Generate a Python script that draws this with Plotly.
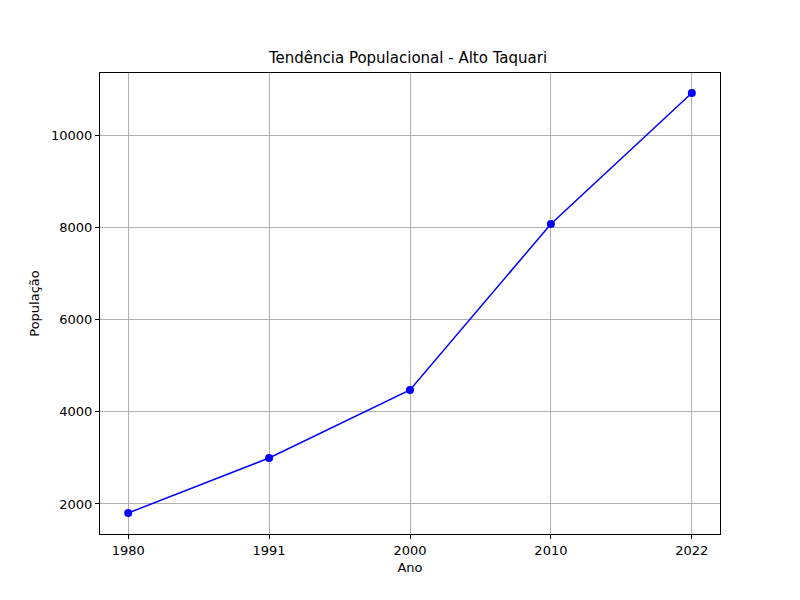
import plotly.graph_objects as go

anos = ["1980", "1991", "2000", "2010", "2022"]
populacao = [1805, 2998, 4473, 8074, 10915]
y_ticks = [2000, 4000, 6000, 8000, 10000]

fig = go.Figure()
fig.add_trace(go.Scatter(
    x=anos, y=populacao, mode="lines+markers",
    line=dict(color="blue", width=1.5),
    marker=dict(color="blue", size=8),
))

axis_common = dict(
    showline=True, linecolor="black", linewidth=1, mirror=True,
    showgrid=True, gridcolor="#b0b0b0", gridwidth=1,
    ticks="outside", ticklen=4, tickcolor="black",
    zeroline=False, tickfont=dict(size=13, color="black"),
)

fig.update_layout(
    width=800, height=600,
    paper_bgcolor="white", plot_bgcolor="white",
    margin=dict(l=92, r=88, t=65, b=74),
    font=dict(family="DejaVu Sans", color="black"),
    title=dict(text="Tendência Populacional - Alto Taquari", x=0.5, xanchor="center",
               y=1 - 50 / 600, yanchor="middle", font=dict(size=15)),
    showlegend=False,
    xaxis=dict(type="category", range=[-0.2, 4.2],
               title=dict(text="Ano", font=dict(size=13), standoff=6), **axis_common),
    yaxis=dict(range=[1349, 11349], tickvals=y_ticks, ticktext=[str(v) for v in y_ticks],
               title=dict(text="População", font=dict(size=13), standoff=8), **axis_common),
)

fig.write_html("out.html")
